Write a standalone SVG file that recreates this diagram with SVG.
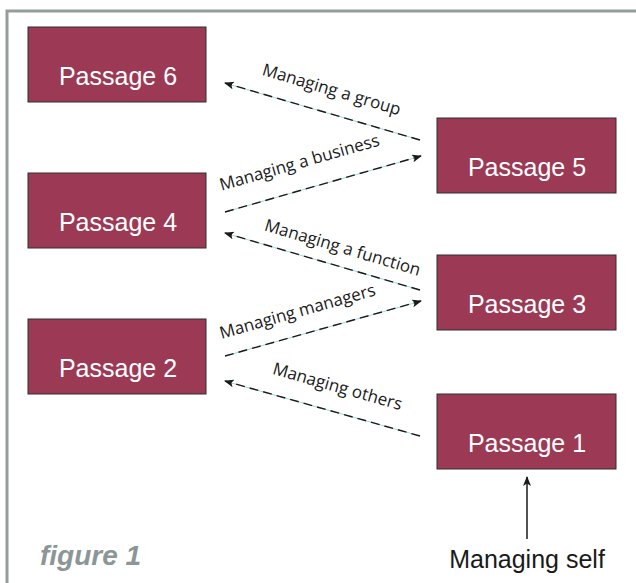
<svg xmlns="http://www.w3.org/2000/svg" width="636" height="583" viewBox="0 0 636 583">
<style>
.box{fill:#9c3a55;stroke:#2e2e2e;stroke-width:1}
.pt{font-family:"Liberation Sans",Arial,sans-serif;font-size:25px;fill:#ffffff;text-anchor:middle}
.lbl{font-family:"Open Sans","Noto Sans",sans-serif;font-size:17px;fill:#1a1a1a;text-anchor:middle}
.under{stroke:#9fd8d8;stroke-width:1;fill:none}
.dash{stroke:#1a1a1a;stroke-width:1.4;stroke-dasharray:9 5;fill:none;marker-end:url(#ah)}
</style>
<defs>
<marker id="ah" viewBox="0 0 10 8" refX="9" refY="4" markerWidth="10" markerHeight="8" markerUnits="userSpaceOnUse" orient="auto">
<path d="M0,0 L10,4 L0,8 L2.5,4 z" fill="#1a1a1a"/>
</marker>
</defs>
<rect width="636" height="583" fill="#ffffff"/>
<path d="M7,583 L7,11 L636,11" fill="none" stroke="#939d9b" stroke-width="3"/>
<g id="passage6"><rect class="box" x="28" y="27" width="178" height="75"/><text class="pt" x="118" y="85">Passage 6</text></g>
<g id="passage4"><rect class="box" x="28" y="173" width="178" height="75"/><text class="pt" x="118" y="231">Passage 4</text></g>
<g id="passage2"><rect class="box" x="28" y="319" width="178" height="75"/><text class="pt" x="118" y="377">Passage 2</text></g>
<g id="passage5"><rect class="box" x="437" y="118" width="179" height="75"/><text class="pt" x="527" y="176">Passage 5</text></g>
<g id="passage3"><rect class="box" x="437" y="255" width="179" height="75"/><text class="pt" x="527" y="313">Passage 3</text></g>
<g id="passage1"><rect class="box" x="437" y="394" width="179" height="75"/><text class="pt" x="527" y="452">Passage 1</text></g>
<g id="connectors">
<line class="under" x1="420" y1="140" x2="228" y2="84"/>
<line class="dash" x1="420" y1="140" x2="225" y2="83"/>
<line class="under" x1="225" y1="212" x2="418" y2="157"/>
<line class="dash" x1="225" y1="212" x2="421" y2="156"/>
<line class="under" x1="420" y1="290" x2="228" y2="234"/>
<line class="dash" x1="420" y1="290" x2="225" y2="233"/>
<line class="under" x1="225" y1="356" x2="418" y2="302"/>
<line class="dash" x1="225" y1="356" x2="421" y2="301"/>
<line class="under" x1="420" y1="436" x2="228" y2="382"/>
<line class="dash" x1="420" y1="436" x2="225" y2="381"/>
<line x1="527" y1="539" x2="527" y2="477" stroke="#1a1a1a" stroke-width="1.5" marker-end="url(#ah)"/>
<text class="lbl" transform="translate(330,95) rotate(16.5)">Managing a group</text>
<text class="lbl" transform="translate(301,168) rotate(-16)">Managing a business</text>
<text class="lbl" transform="translate(341,253) rotate(16.4)">Managing a function</text>
<text class="lbl" transform="translate(299,317) rotate(-15.8)">Managing managers</text>
<text class="lbl" transform="translate(336,392) rotate(15.8)">Managing others</text>
</g>
<text x="527" y="568" font-family="'Liberation Sans',Arial,sans-serif" font-size="25" fill="#1a1a1a" text-anchor="middle">Managing self</text>
<text x="40" y="565" font-family="'Liberation Sans',Arial,sans-serif" font-size="28" font-weight="bold" font-style="italic" fill="#8c9696">figure 1</text>
</svg>
